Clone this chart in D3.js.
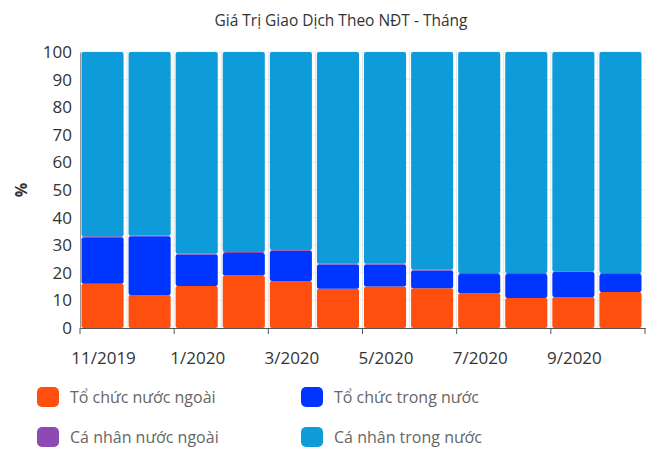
<!DOCTYPE html>
<html lang="vi">

<head>
  <meta charset="UTF-8">
  <title>Giá Trị Giao Dịch Theo NĐT - Tháng</title>
  <script src="https://d3js.org/d3.v7.min.js"></script>
  <style>
    body { margin: 0; background: #fff; }
    text { font-family: "Open Sans", "Noto Sans", sans-serif; }
  </style>
</head>

<body>
</body>
<script>
  const WIDTH = 651;
  const HEIGHT = 450;

  const months = ['11/2019', '12/2019', '1/2020', '2/2020', '3/2020', '4/2020',
    '5/2020', '6/2020', '7/2020', '8/2020', '9/2020', '10/2020'];
  const seriesNames = ['Tổ chức nước ngoài', 'Tổ chức trong nước', 'Cá nhân nước ngoài', 'Cá nhân trong nước'];
  const colors = ['#fe4f0e', '#0035ff', '#8e4ab4', '#0e9bda'];

  // % values
  const toChucNuocNgoai = [16.0, 12.0, 15.2, 19.0, 17.0, 14.2, 15.0, 14.4, 12.6, 10.9, 11.2, 13.0];
  const toChucTrongNuoc = [16.9, 21.2, 11.4, 8.2, 11.0, 8.8, 8.0, 6.4, 7.0, 8.7, 9.1, 6.6];
  const caNhanNuocNgoai = [0.3, 0.3, 0.3, 0.3, 0.3, 0.3, 0.3, 0.3, 0.3, 0.3, 0.3, 0.3];
  const caNhanTrongNuoc = [66.8, 66.5, 73.1, 72.5, 71.7, 76.7, 76.7, 78.9, 80.1, 80.1, 79.4, 80.1];
  const yTicks = d3.range(0, 101, 10);
  const xTickLabels = ['11/2019', '1/2020', '3/2020', '5/2020', '7/2020', '9/2020'];

  const margin = { top: 52, right: 6, bottom: 122, left: 80 };
  const innerW = WIDTH - margin.left - margin.right;
  const innerH = HEIGHT - margin.top - margin.bottom;

  const table = months.map((m, i) => ({
    month: m,
    [seriesNames[0]]: toChucNuocNgoai[i],
    [seriesNames[1]]: toChucTrongNuoc[i],
    [seriesNames[2]]: caNhanNuocNgoai[i],
    [seriesNames[3]]: caNhanTrongNuoc[i]
  }));
  const stacked = d3.stack().keys(seriesNames)(table);

  const xb = d3.scaleBand().domain(months).range([0, innerW]);
  const y = d3.scaleLinear().domain([0, 100]).range([innerH, 0]);
  const color = d3.scaleOrdinal().domain(seriesNames).range(colors);

  const svg = d3.select('body').append('svg')
    .attr('width', WIDTH)
    .attr('height', HEIGHT);

  svg.append('text')
    .attr('x', 341)
    .attr('y', 26)
    .attr('text-anchor', 'middle')
    .attr('font-size', 15.5)
    .attr('fill', '#333')
    .text('Giá Trị Giao Dịch Theo NĐT - Tháng');

  const g = svg.append('g').attr('transform', `translate(${margin.left},${margin.top})`);

  // grid
  g.append('g').selectAll('line')
    .data(yTicks.slice(1))
    .join('line')
    .attr('x1', 0).attr('x2', innerW)
    .attr('y1', d => y(d)).attr('y2', d => y(d))
    .attr('stroke', '#ececec');
  g.append('g').selectAll('line')
    .data(months.slice(1))
    .join('line')
    .attr('x1', d => xb(d)).attr('x2', d => xb(d))
    .attr('y1', 0).attr('y2', innerH)
    .attr('stroke', '#e4e4e4');

  // bars
  g.append('g').selectAll('g')
    .data(stacked)
    .join('g')
    .attr('fill', d => color(d.key))
    .selectAll('rect')
    .data(d => d.map(v => ({ v, month: v.data.month })))
    .join('rect')
    .attr('x', d => xb(d.month) + 1.5)
    .attr('width', xb.bandwidth() - 5)
    .attr('y', d => y(d.v[1]))
    .attr('height', d => y(d.v[0]) - y(d.v[1]))
    .attr('rx', 2);

  // y axis
  const yAxis = g.append('g')
    .call(d3.axisLeft(y).tickValues(yTicks).tickSize(0).tickPadding(8));
  yAxis.select('.domain').attr('stroke', '#999');
  yAxis.selectAll('text').attr('font-size', 17).attr('fill', '#333');

  // x axis
  const xAxis = g.append('g')
    .attr('transform', `translate(0,${innerH})`)
    .call(d3.axisBottom(xb).tickSize(0).tickFormat(''));
  xAxis.select('.domain').attr('stroke', '#555');
  xAxis.selectAll('.tick').remove();

  const xg = g.append('g').attr('transform', `translate(0,${innerH})`);
  xg.selectAll('line')
    .data(months.filter((m, i) => i % 2 === 0).concat(['end']))
    .join('line')
    .attr('x1', d => d === 'end' ? innerW : xb(d))
    .attr('x2', d => d === 'end' ? innerW : xb(d))
    .attr('y1', 0).attr('y2', 6)
    .attr('stroke', '#555');
  xg.selectAll('text')
    .data(xTickLabels)
    .join('text')
    .attr('x', d => xb(d) + xb.bandwidth() / 2)
    .attr('y', 36)
    .attr('text-anchor', 'middle')
    .attr('font-size', 17)
    .attr('fill', '#333')
    .text(d => d);

  svg.append('text')
    .attr('transform', `translate(27,${margin.top + innerH / 2}) rotate(-90)`)
    .attr('text-anchor', 'middle')
    .attr('font-size', 16)
    .attr('font-weight', 'bold')
    .attr('fill', '#333')
    .text('%');

  // legend
  const legendPos = [[37, 397], [301, 397], [37, 437], [301, 437]];
  const legend = svg.append('g').selectAll('g')
    .data(seriesNames)
    .join('g')
    .attr('transform', (d, i) => `translate(${legendPos[i][0]},${legendPos[i][1]})`);
  legend.append('rect')
    .attr('x', 0).attr('y', -10)
    .attr('width', 22).attr('height', 20)
    .attr('rx', 5)
    .attr('fill', d => color(d));
  legend.append('text')
    .attr('x', 33)
    .attr('y', 6)
    .attr('font-size', 16)
    .attr('fill', '#666')
    .text(d => d);
</script>

</html>
